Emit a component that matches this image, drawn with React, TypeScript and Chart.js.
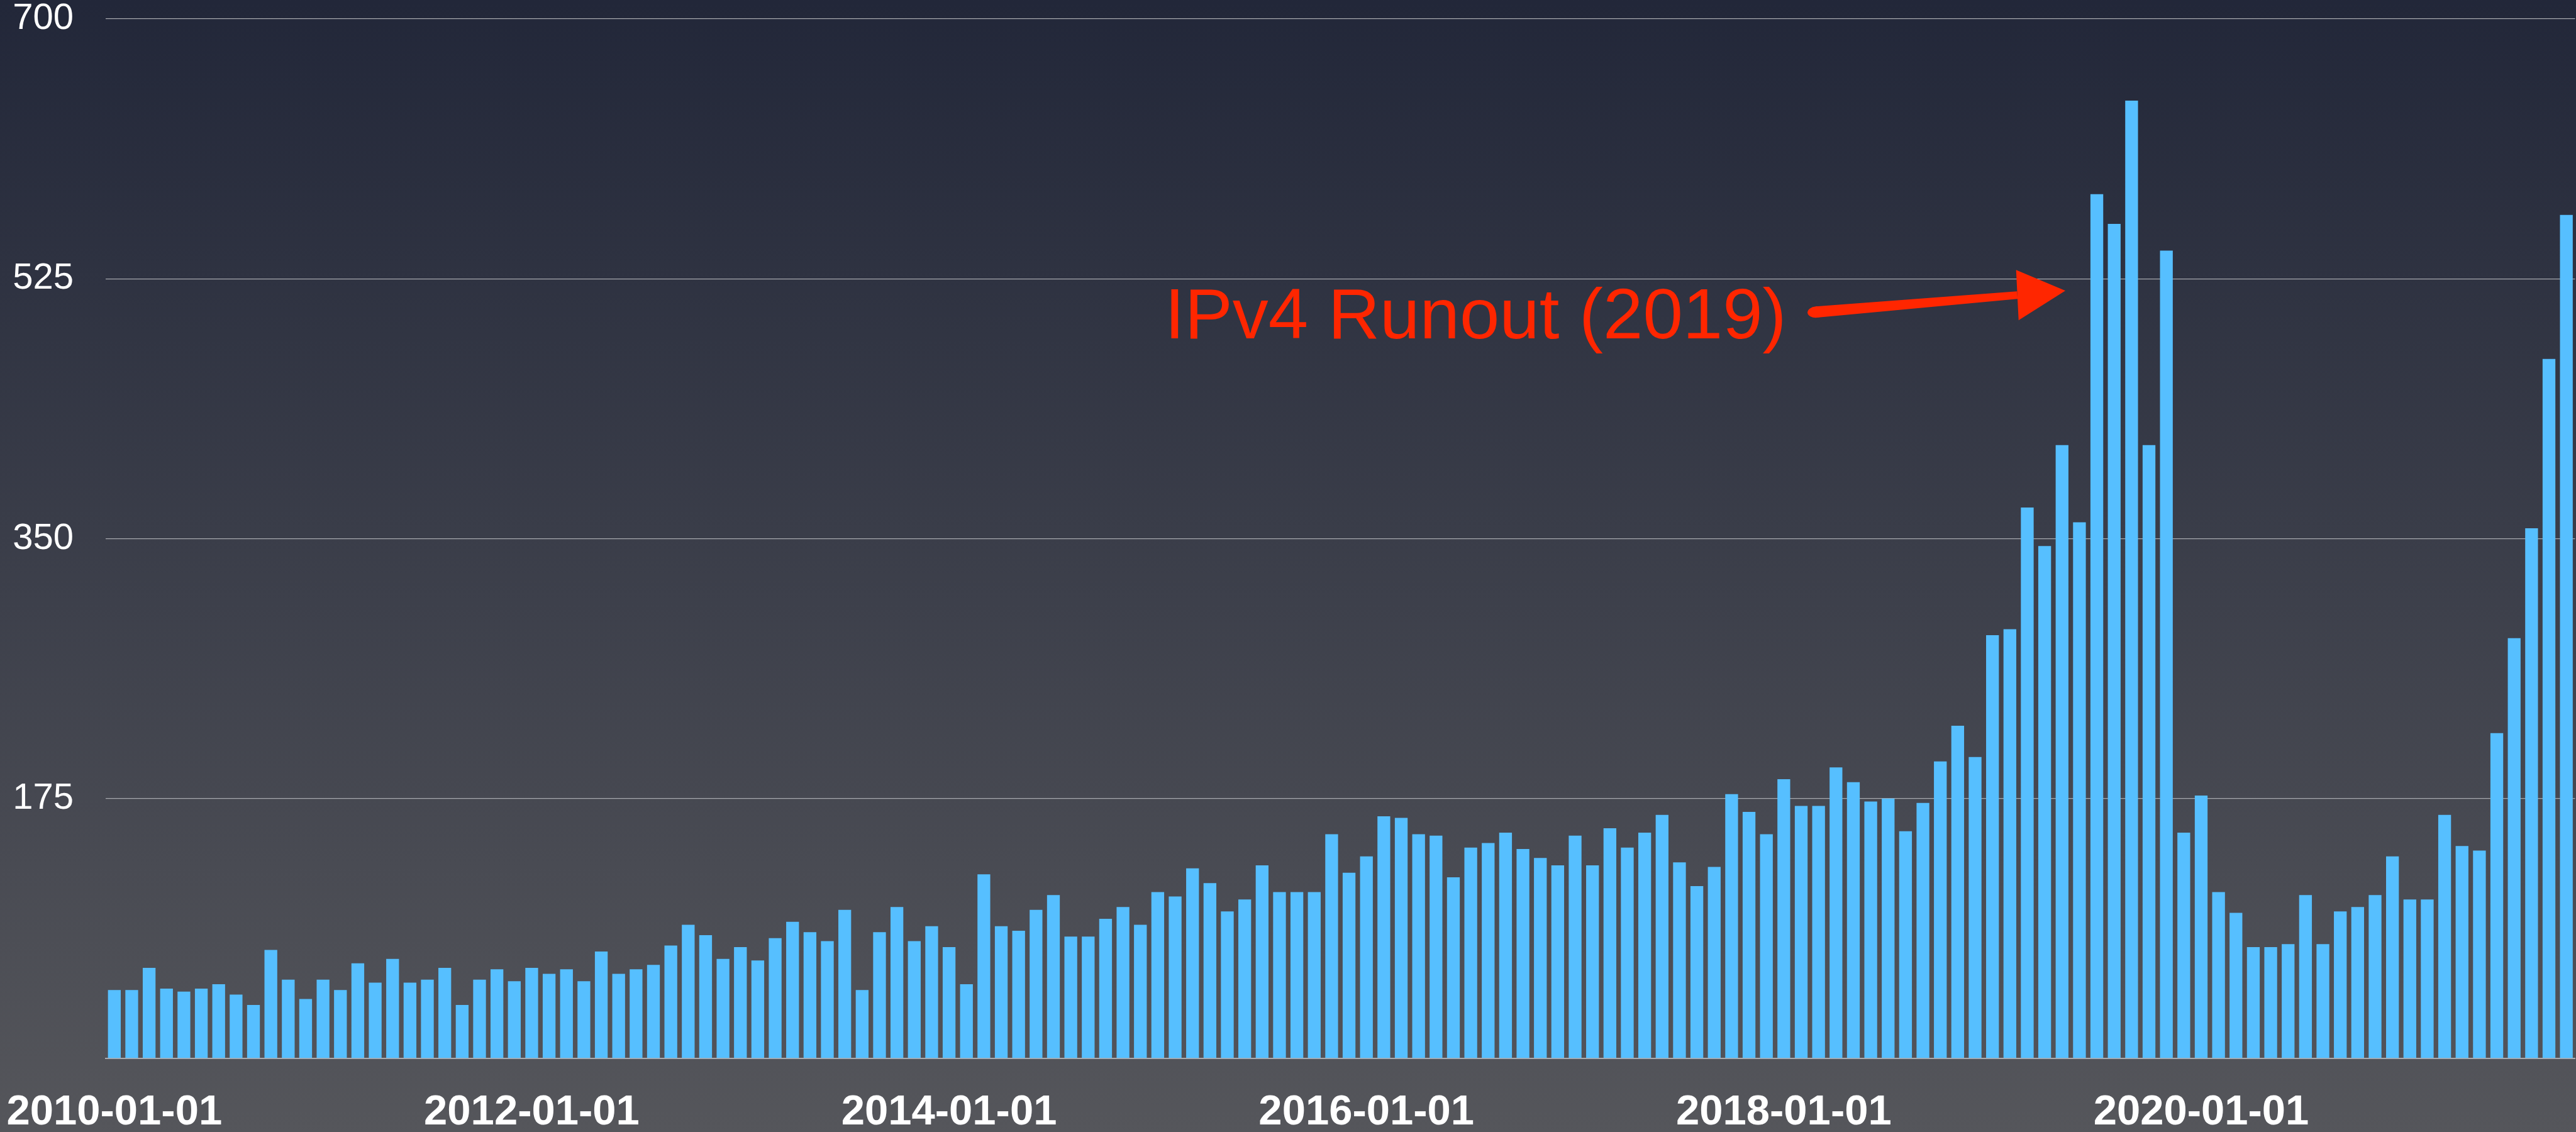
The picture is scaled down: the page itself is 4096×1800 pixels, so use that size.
import React, { useEffect, useRef } from "react";
import { Chart, registerables } from "chart.js";

Chart.register(...registerables);

// ---- data ----
const START_YEAR = 2010;
const MONTH_COUNT = 142; // 2010-01 .. 2021-10
const MONTHS: string[] = [];
for (let i = 0; i < MONTH_COUNT; i++) {
  const yr = START_YEAR + Math.floor(i / 12);
  const mo = (i % 12) + 1;
  MONTHS.push(`${yr}-${mo < 10 ? "0" + mo : mo}-01`);
}

const VALUES_2010_2011 = [46, 46, 61, 47, 45, 47, 50, 43, 36, 73, 53, 40, 53, 46, 64, 51, 67, 51, 53, 61, 36, 53, 60, 52];
const VALUES_2012_2013 = [61, 57, 60, 52, 72, 57, 60, 63, 76, 90, 83, 67, 75, 66, 81, 92, 85, 79, 100, 46, 85, 102, 79, 89];
const VALUES_2014_2015 = [75, 50, 124, 89, 86, 100, 110, 82, 82, 94, 102, 90, 112, 109, 128, 118, 99, 107, 130, 112, 112, 112, 151, 125];
const VALUES_2016_2017 = [136, 163, 162, 151, 150, 122, 142, 145, 152, 141, 135, 130, 150, 130, 155, 142, 152, 164, 132, 116, 129, 178, 166, 151];
const VALUES_2018_2019 = [188, 170, 170, 196, 186, 173, 175, 153, 172, 200, 224, 203, 285, 289, 371, 345, 413, 361, 582, 562, 645, 413, 544, 152];
const VALUES_2020_2021 = [177, 112, 98, 75, 75, 77, 110, 77, 99, 102, 110, 136, 107, 107, 164, 143, 140, 219, 283, 357, 471, 568];
const VALUES = [
  ...VALUES_2010_2011,
  ...VALUES_2012_2013,
  ...VALUES_2014_2015,
  ...VALUES_2016_2017,
  ...VALUES_2018_2019,
  ...VALUES_2020_2021,
];

const TICK_LABELS = ["2010-01-01", "2012-01-01", "2014-01-01", "2016-01-01", "2018-01-01", "2020-01-01"];
const Y_TICKS = [0, 175, 350, 525, 700];

// annotation (in data coordinates: category index, value)
const ANNOT_TEXT = "IPv4 Runout (2019)";
const ANNOT_POS = [60.4, 484.8];
const ARROW_TAIL = [97.87, 502.6];
const ARROW_BASE = [109.43, 514.0];
const ARROW_TIP = [112.19, 517.0];

// ---- styles ----
const W = 4096;
const H = 1800;
const FONT = "'Liberation Sans', Arial, Helvetica, sans-serif";
const BAR_COLOR = "#56BFFF";
const GRID_COLOR = "#a7a9ae";
const AXIS_COLOR = "#a9abb0";
const ANNOT_COLOR = "#FF2600";

const annotationPlugin = {
  id: "runoutAnnotation",
  afterDatasetsDraw(chart: any) {
    const { ctx } = chart;
    const xs = chart.scales.x;
    const ys = chart.scales.y;
    const px = (p: number[]) => [xs.getPixelForValue(p[0]), ys.getPixelForValue(p[1])];
    ctx.save();
    ctx.fillStyle = ANNOT_COLOR;
    ctx.font = `114px ${FONT}`;
    ctx.textAlign = "left";
    ctx.textBaseline = "alphabetic";
    const [tx, ty] = px(ANNOT_POS);
    ctx.fillText(ANNOT_TEXT, tx, ty);

    // arrow
    const [ax, ay] = px(ARROW_TAIL);
    const [bx, by] = px(ARROW_BASE);
    const [cx, cy] = px(ARROW_TIP);
    const dx = bx - ax;
    const dy = by - ay;
    const len = Math.hypot(dx, dy);
    const nx = -dy / len;
    const ny = dx / len;
    const tailHalf = 9;
    const baseHalf = 6;
    ctx.beginPath();
    ctx.moveTo(ax + nx * tailHalf, ay + ny * tailHalf);
    ctx.lineTo(bx + nx * baseHalf, by + ny * baseHalf);
    ctx.lineTo(bx - nx * baseHalf, by - ny * baseHalf);
    ctx.lineTo(ax - nx * tailHalf, ay - ny * tailHalf);
    ctx.closePath();
    ctx.fill();
    ctx.beginPath();
    ctx.ellipse(ax, ay, 14, tailHalf, Math.atan2(dy, dx), 0, Math.PI * 2);
    ctx.fill();
    // head
    const headHalf = 40;
    ctx.beginPath();
    ctx.moveTo(bx - 2, by - headHalf);
    ctx.lineTo(cx, cy);
    ctx.lineTo(bx + 2, by + headHalf);
    ctx.closePath();
    ctx.fill();
    ctx.restore();
  },
};

export default function App() {
  const ref = useRef<HTMLCanvasElement>(null);
  useEffect(() => {
    document.body.style.margin = "0";
    const canvas = ref.current!;
    const chart = new Chart(canvas, {
      type: "bar",
      data: {
        labels: MONTHS,
        datasets: [
          {
            data: VALUES,
            backgroundColor: BAR_COLOR,
            borderWidth: 0,
            barPercentage: 0.735,
            categoryPercentage: 1,
          },
        ],
      },
      options: {
        responsive: false,
        animation: false,
        devicePixelRatio: 1,
        layout: { padding: { top: 30, right: 1.5, left: 0, bottom: 0 } },
        plugins: { legend: { display: false }, tooltip: { enabled: false } },
        scales: {
          x: {
            offset: true,
            grid: { display: false, drawTicks: false },
            border: { display: true, color: AXIS_COLOR, width: 2 },
            ticks: {
              autoSkip: false,
              maxRotation: 0,
              minRotation: 0,
              color: "#ffffff",
              padding: 46,
              font: { family: FONT, size: 67, weight: "bold" },
              callback: (_v: any, i: number) => (TICK_LABELS.includes(MONTHS[i]) ? MONTHS[i] : ""),
            },
            afterFit: (s: any) => {
              s.height = 117;
              s.paddingLeft = 0;
              s.paddingRight = 0;
            },
          },
          y: {
            min: Y_TICKS[0],
            max: Y_TICKS[Y_TICKS.length - 1],
            afterBuildTicks: (s: any) => {
              s.ticks = Y_TICKS.map((v) => ({ value: v }));
            },
            ticks: {
              color: "#ffffff",
              padding: 51,
              font: { family: FONT, size: 58 },
              callback: (v: any) => (v === 0 ? "" : String(v)),
            },
            grid: {
              color: (c: any) => (c.tick && c.tick.value === 0 ? "rgba(0,0,0,0)" : GRID_COLOR),
              lineWidth: 1.3,
              drawTicks: false,
            },
            border: { display: false },
            afterFit: (s: any) => {
              s.width = 168;
              s.paddingTop = 0;
              s.paddingBottom = 0;
            },
          },
        },
      },
      plugins: [annotationPlugin],
    } as any);
    return () => chart.destroy();
  }, []);

  return (
    <div
      style={{
        position: "fixed",
        left: 0,
        top: 0,
        width: W,
        height: H,
        background: "linear-gradient(180deg, #222739 0%, #55565b 100%)",
      }}
    >
      <canvas ref={ref} width={W} height={H} style={{ display: "block", width: W, height: H }} />
    </div>
  );
}
